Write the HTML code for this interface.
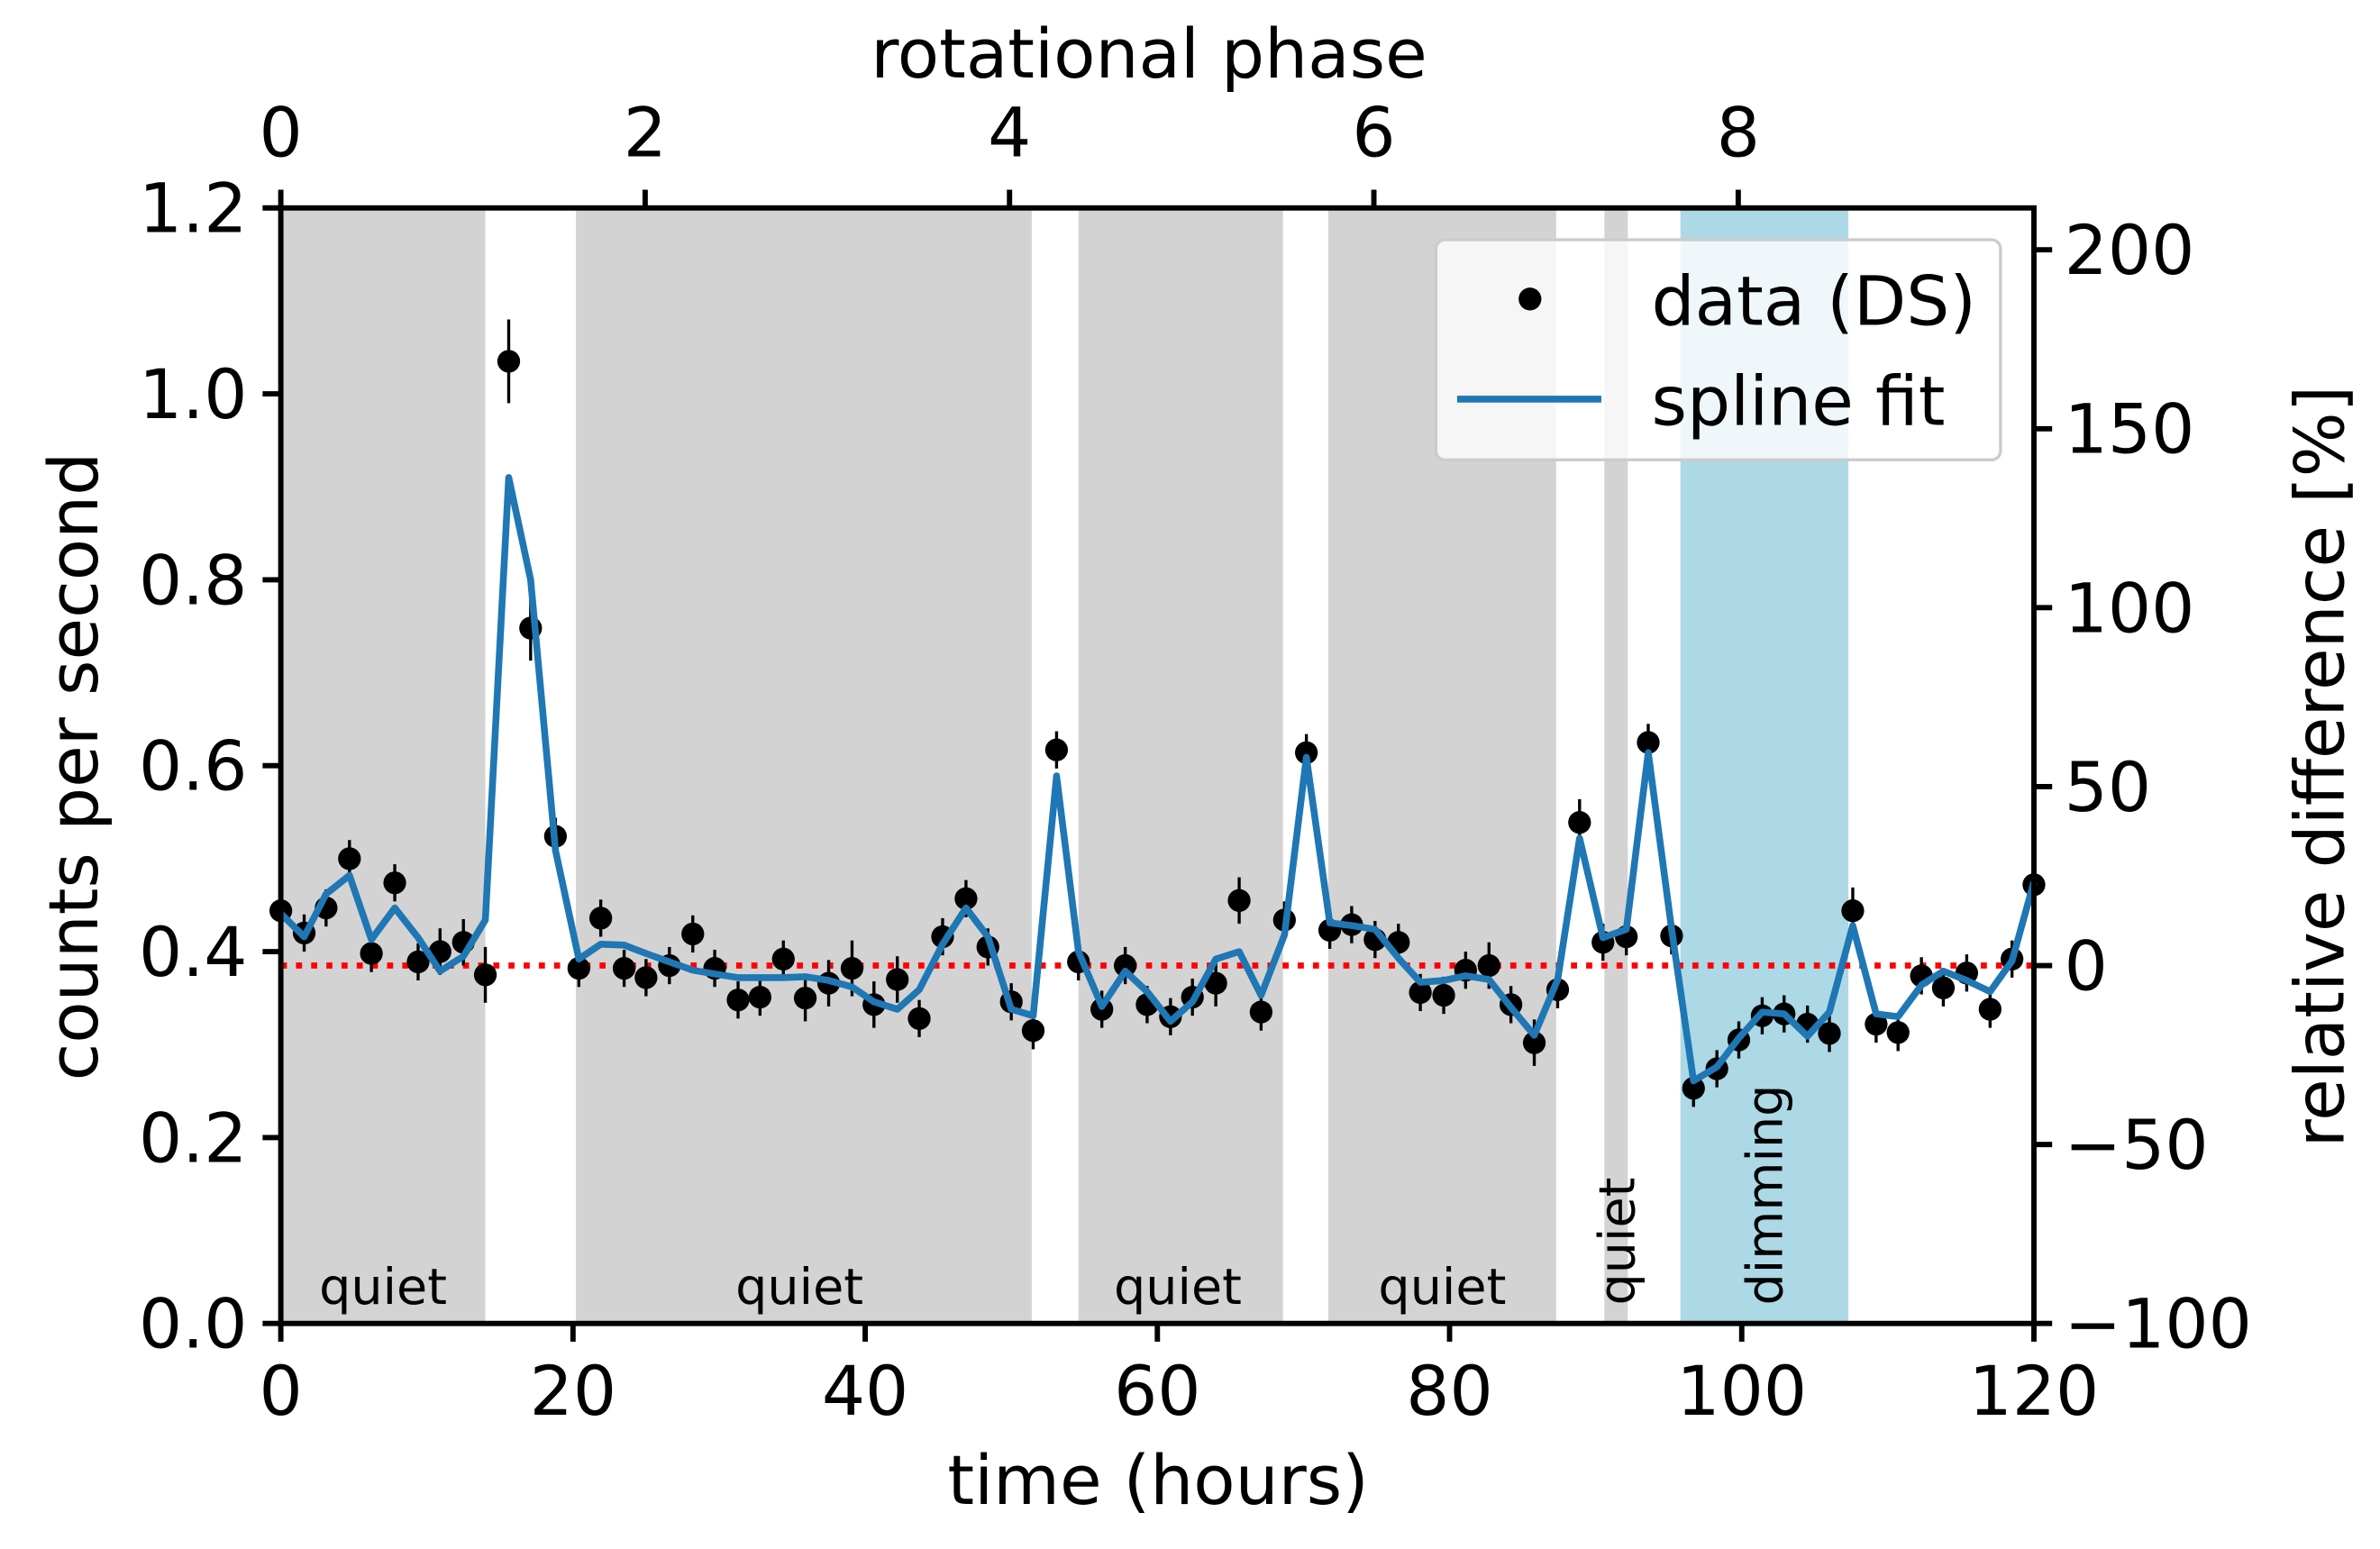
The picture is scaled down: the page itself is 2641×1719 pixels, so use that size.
<!DOCTYPE html>
<html><head><meta charset="utf-8"><style>
html,body{margin:0;padding:0;background:#fff;}
svg{display:block;font-family:"DejaVu Sans","Liberation Sans",sans-serif;}
</style></head><body>
<svg id="chart" width="2641" height="1719" viewBox="0 0 1568 1020.6" xmlns="http://www.w3.org/2000/svg">
<g id="bands"></g>
<g id="refline"></g>
<g id="series"></g>
<g id="axes"></g>
<g id="legend"></g>
</svg>
<script>
const times = [0,1.6,3.1,4.7,6.2,7.8,9.4,10.9,12.5,14.0,15.6,17.1,18.8,20.4,21.9,23.5,25.0,26.6,28.2,29.7,31.3,32.8,34.4,35.9,37.5,39.1,40.6,42.2,43.7,45.3,46.9,48.4,50.0,51.5,53.1,54.6,56.2,57.8,59.3,60.9,62.4,64.0,65.6,67.1,68.7,70.2,71.8,73.3,74.9,76.5,78.0,79.6,81.1,82.7,84.2,85.8,87.4,88.9,90.5,92.1,93.6,95.2,96.7,98.3,99.8,101.4,102.9,104.5,106.0,107.6,109.2,110.7,112.3,113.8,115.4,117.0,118.5,120];
const counts = [0.444,0.42,0.447,0.50,0.398,0.474,0.389,0.40,0.41,0.375,1.035,0.748,0.524,0.382,0.436,0.382,0.372,0.385,0.419,0.382,0.348,0.351,0.392,0.35,0.366,0.382,0.343,0.37,0.328,0.416,0.457,0.405,0.346,0.315,0.617,0.389,0.338,0.385,0.343,0.33,0.351,0.366,0.455,0.335,0.434,0.614,0.423,0.429,0.413,0.41,0.356,0.353,0.38,0.385,0.343,0.302,0.359,0.539,0.41,0.416,0.625,0.417,0.253,0.274,0.305,0.331,0.333,0.322,0.312,0.444,0.322,0.313,0.374,0.361,0.377,0.338,0.392,0.472];
const errors = [0.02,0.02,0.02,0.02,0.02,0.02,0.02,0.025,0.025,0.03,0.045,0.035,0.02,0.02,0.02,0.02,0.02,0.02,0.02,0.02,0.02,0.02,0.02,0.025,0.025,0.03,0.025,0.025,0.02,0.02,0.02,0.02,0.02,0.02,0.02,0.02,0.02,0.02,0.02,0.02,0.02,0.025,0.025,0.02,0.02,0.02,0.02,0.02,0.02,0.02,0.02,0.02,0.02,0.025,0.02,0.025,0.02,0.025,0.02,0.02,0.02,0.02,0.02,0.02,0.02,0.02,0.02,0.02,0.02,0.025,0.02,0.02,0.02,0.02,0.02,0.02,0.02,0.02];
const spline = [0.441,0.416,0.462,0.482,0.413,0.447,0.415,0.379,0.395,0.434,0.91,0.80,0.509,0.392,0.408,0.407,0.398,0.389,0.38,0.376,0.372,0.372,0.372,0.373,0.369,0.362,0.346,0.338,0.359,0.408,0.447,0.416,0.338,0.331,0.589,0.40,0.341,0.379,0.357,0.325,0.346,0.392,0.40,0.353,0.418,0.609,0.431,0.428,0.424,0.393,0.367,0.369,0.374,0.37,0.34,0.31,0.37,0.522,0.415,0.424,0.614,0.424,0.261,0.276,0.307,0.335,0.333,0.309,0.335,0.428,0.333,0.33,0.364,0.379,0.369,0.357,0.39,0.475];
const bandStart = [0,20.2,54.6,71.7,90.6,95.8];
const bandEnd = [14.0,51.4,68.6,87.3,92.2,107.3];
const bandKind = ["quiet","quiet","quiet","quiet","quiet","dimming"];
const bandLabel = ["quiet","quiet","quiet","quiet","quiet","dimming"];
const bandLabelX = [7,35.5,61.4,79.5,91.4,101.5];
const bandRotated = [false,false,false,false,true,true];
const xTicks = [0,20,40,60,80,100,120];
const yTicks = [0.0,0.2,0.4,0.6,0.8,1.0,1.2];
const yTickLabels = ["0.0","0.2","0.4","0.6","0.8","1.0","1.2"];
const phaseTicks = [0,2,4,6,8];
const relTicks = [-100,-50,0,50,100,150,200];
const relTickLabels = ["\u2212100","\u221250","0","50","100","150","200"];
const refLevel = 0.385;
const hoursPerPhase = 12.47;

const NS="http://www.w3.org/2000/svg";
const L=185,R=1340,T=137,B=872;
const FS=45;
const sx=h=>L+(h/120)*(R-L);
const sy=v=>B-(v/1.2)*(B-T);
const srel=p=>sy(refLevel*(1+p/100));
const sph=p=>sx(p*hoursPerPhase);
function mk(tag,attrs,parent,text){const e=document.createElementNS(NS,tag);for(const k in attrs)e.setAttribute(k,attrs[k]);if(text!==undefined)e.textContent=text;parent.appendChild(e);return e;}

const gB=document.getElementById('bands');
bandStart.forEach((s,i)=>{
  const r=mk('rect',{x:sx(s),y:T,width:sx(bandEnd[i])-sx(s),height:B-T,fill:bandKind[i]==='dimming'?'#add8e6':'#d3d3d3'},gB);
  
  
  let t;
  if(bandRotated[i]){
    t=mk('text',{x:0,y:0,'font-size':33,'text-anchor':'start',transform:`translate(${sx(bandLabelX[i])+12},860) rotate(-90)`},gB,bandLabel[i]);
  } else {
    t=mk('text',{x:sx(bandLabelX[i]),y:859,'font-size':33,'text-anchor':'middle'},gB,bandLabel[i]);
  }
  
  
});

const gR=document.getElementById('refline');
const rl=mk('line',{x1:L,x2:R,y1:sy(refLevel),y2:sy(refLevel),stroke:'#ff0000','stroke-width':4,'stroke-dasharray':'4 6'},gR);



const gS=document.getElementById('series');
times.forEach((t,i)=>{
  const e=mk('line',{x1:sx(t),x2:sx(t),y1:sy(counts[i]-errors[i]),y2:sy(counts[i]+errors[i]),stroke:'#000','stroke-width':2},gS);
  
  
  const c=mk('circle',{cx:sx(t),cy:sy(counts[i]),r:7.5,fill:'#000'},gS);
  
  
});
const pl=mk('polyline',{points:times.map((t,i)=>sx(t)+','+sy(spline[i])).join(' '),fill:'none',stroke:'#1f77b4','stroke-width':4.5,'stroke-linejoin':'round'},gS);



const gA=document.getElementById('axes');
const frame=mk('rect',{x:L,y:T,width:R-L,height:B-T,fill:'none',stroke:'#000','stroke-width':3.5},gA);


xTicks.forEach(v=>{
  const tk=mk('line',{x1:sx(v),x2:sx(v),y1:B,y2:B+12,stroke:'#000','stroke-width':3.5},gA);
  
  
  const tl=mk('text',{x:sx(v),y:932,'font-size':FS,'text-anchor':'middle'},gA,String(v));
  
  
});
yTicks.forEach((v,i)=>{
  const tk=mk('line',{x1:L-12,x2:L,y1:sy(v),y2:sy(v),stroke:'#000','stroke-width':3.5},gA);
  
  
  const tl=mk('text',{x:L-22,y:sy(v)+16,'font-size':FS,'text-anchor':'end'},gA,yTickLabels[i]);
  
  
});
phaseTicks.forEach(v=>{
  const tk=mk('line',{x1:sph(v),x2:sph(v),y1:T-12,y2:T,stroke:'#000','stroke-width':3.5},gA);
  
  
  const tl=mk('text',{x:sph(v),y:103,'font-size':FS,'text-anchor':'middle'},gA,String(v));
  
  
});
relTicks.forEach((v,i)=>{
  const tk=mk('line',{x1:R,x2:R+12,y1:srel(v),y2:srel(v),stroke:'#000','stroke-width':3.5},gA);
  
  
  const tl=mk('text',{x:R+20,y:srel(v)+16,'font-size':FS,'text-anchor':'start'},gA,relTickLabels[i]);
  
  
});
let t;
t=mk('text',{x:763,y:991,'font-size':FS,'text-anchor':'middle'},gA,'time (hours)');


t=mk('text',{x:757,y:51,'font-size':FS,'text-anchor':'middle'},gA,'rotational phase');


t=mk('text',{x:0,y:0,'font-size':FS,'text-anchor':'middle',transform:'translate(64,505) rotate(-90)'},gA,'counts per second');


t=mk('text',{x:0,y:0,'font-size':FS,'text-anchor':'middle',transform:'translate(1544,505) rotate(-90)'},gA,'relative difference [%]');



const gL=document.getElementById('legend');


const lb=mk('rect',{x:946,y:158,width:372,height:145,rx:6,fill:'#ffffff','fill-opacity':0.8,stroke:'#cccccc','stroke-width':2},gL);


const lm=mk('circle',{cx:1008,cy:197,r:7.5,fill:'#000'},gL);


const ll=mk('line',{x1:960,x2:1055,y1:263,y2:263,stroke:'#1f77b4','stroke-width':4.5},gL);


t=mk('text',{x:1088,y:214,'font-size':FS},gL,'data (DS)');


t=mk('text',{x:1088,y:280,'font-size':FS},gL,'spline fit');


</script>
</body></html>
